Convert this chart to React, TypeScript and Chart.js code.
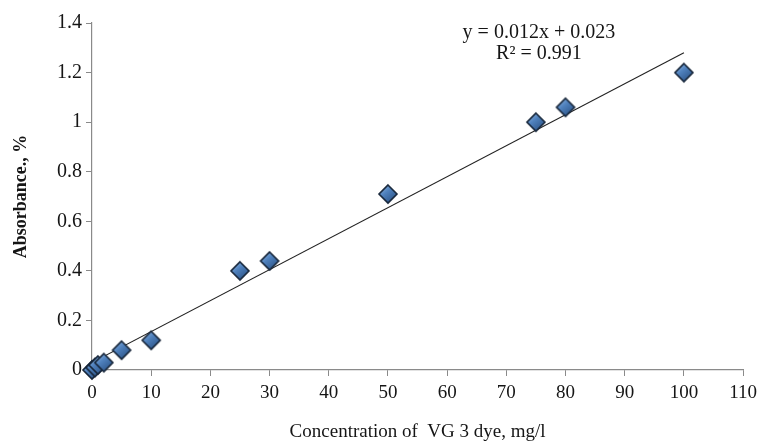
import React, { useEffect, useRef } from "react";
import { Chart, registerables } from "chart.js";

Chart.register(...registerables);

const concentrations = [0, 0.5, 1, 2, 5, 10, 25, 30, 50, 75, 80, 100];
const absorbance = [0, 0.01, 0.02, 0.03, 0.08, 0.12, 0.4, 0.44, 0.71, 1.0, 1.06, 1.2];
const trendX = [0, 100];
const trendY = [0.03, 1.28];
const equationLines = ["y = 0.012x + 0.023", "R² = 0.991"];
const equationAnchor = { x: 75.5, y: 1.36 };
const xTitle = "Concentration of  VG 3 dye, mg/l";
const yTitle = "Absorbance., %";

const FONT = "'Liberation Serif', 'Times New Roman', serif";
const TEXT = "#151515";
const AXIS = "#8a8a8a";

function makeDiamond(r: number): HTMLCanvasElement {
  const size = Math.ceil(r * 2 + 4);
  const c = document.createElement("canvas");
  c.width = size;
  c.height = size;
  const g = c.getContext("2d")!;
  const cx = size / 2;
  const cy = size / 2;
  const grad = g.createLinearGradient(cx - r, cy - r, cx + r * 0.6, cy + r);
  grad.addColorStop(0, "#9dc0ea");
  grad.addColorStop(0.45, "#4f81bd");
  grad.addColorStop(1, "#2a5184");
  g.beginPath();
  g.moveTo(cx, cy - r);
  g.lineTo(cx + r, cy);
  g.lineTo(cx, cy + r);
  g.lineTo(cx - r, cy);
  g.closePath();
  g.fillStyle = grad;
  g.fill();
  g.lineWidth = 1.6;
  g.strokeStyle = "#17263a";
  g.stroke();
  return c;
}

const equationPlugin = {
  id: "equation",
  afterDatasetsDraw(chart: any) {
    const { ctx, scales } = chart;
    const px = scales.x.getPixelForValue(equationAnchor.x);
    const py = scales.y.getPixelForValue(equationAnchor.y);
    ctx.save();
    ctx.font = `20px ${FONT}`;
    ctx.fillStyle = TEXT;
    ctx.textAlign = "center";
    ctx.textBaseline = "middle";
    equationLines.forEach((line, i) => {
      ctx.fillText(line, px, py + i * 21);
    });
    ctx.restore();
  },
};

export default function App() {
  const ref = useRef<HTMLCanvasElement | null>(null);

  useEffect(() => {
    if (!ref.current) return;
    const diamond = makeDiamond(9);
    const chart = new Chart(ref.current, {
      type: "scatter",
      data: {
        datasets: [
          {
            label: "data",
            data: concentrations.map((x, i) => ({ x, y: absorbance[i] })),
            pointStyle: diamond as any,
            pointRadius: 9,
            showLine: false,
            clip: false,
          } as any,
          {
            type: "line",
            label: "trend",
            data: trendX.map((x, i) => ({ x, y: trendY[i] })),
            borderColor: "#222",
            borderWidth: 1.1,
            pointRadius: 0,
            fill: false,
          } as any,
        ],
      },
      options: {
        animation: false,
        responsive: true,
        maintainAspectRatio: false,
        layout: { padding: { top: 23, right: 15, bottom: 0, left: 0 } },
        plugins: {
          legend: { display: false },
          tooltip: { enabled: false },
        },
        scales: {
          x: {
            type: "linear",
            min: 0,
            max: 110,
            ticks: {
              stepSize: 10,
              font: { family: FONT, size: 19 },
              color: TEXT,
              padding: 6,
              maxRotation: 0,
            },
            grid: {
              drawOnChartArea: false,
              drawTicks: true,
              tickLength: 6,
              color: AXIS,
            },
            border: { display: true, color: AXIS, width: 1.2 },
            title: {
              display: true,
              text: xTitle,
              font: { family: FONT, size: 19 },
              color: TEXT,
              padding: { top: 0, bottom: 0 },
            },
            afterFit: (s: any) => {
              s.height = 73;
            },
          },
          y: {
            type: "linear",
            min: 0,
            max: 1.4,
            ticks: {
              stepSize: 0.2,
              font: { family: FONT, size: 20 },
              color: TEXT,
              padding: 4,
              callback: (v: any) => String(Math.round(Number(v) * 10) / 10),
            },
            grid: {
              drawOnChartArea: false,
              drawTicks: true,
              tickLength: 6,
              color: AXIS,
            },
            border: { display: true, color: AXIS, width: 1.2 },
            title: {
              display: true,
              text: yTitle,
              font: { family: FONT, size: 18, weight: "bold" },
              color: TEXT,
              padding: { top: 11, bottom: 0 },
            },
            afterFit: (s: any) => {
              s.width = 92;
            },
          },
        },
      },
      plugins: [equationPlugin],
    });
    return () => chart.destroy();
  }, []);

  return (
    <div style={{ position: "absolute", left: 0, top: 0, width: 763, height: 443, background: "#fff" }}>
      <canvas ref={ref} />
    </div>
  );
}
